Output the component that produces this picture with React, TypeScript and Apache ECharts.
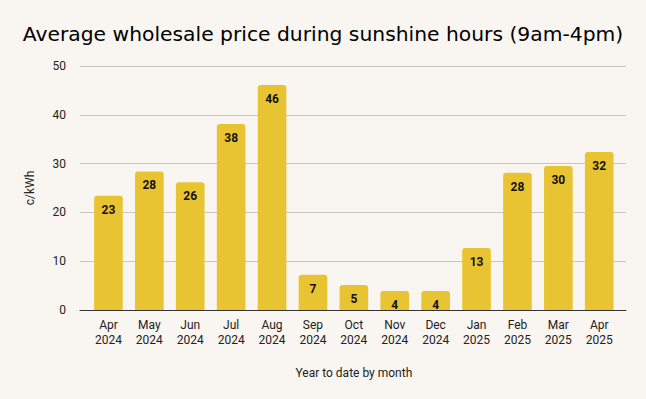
import React, { useEffect, useRef } from "react";
import * as echarts from "echarts";

const categories = [
  "Apr\n2024", "May\n2024", "Jun\n2024", "Jul\n2024", "Aug\n2024", "Sep\n2024", "Oct\n2024",
  "Nov\n2024", "Dec\n2024", "Jan\n2025", "Feb\n2025", "Mar\n2025", "Apr\n2025",
];
const prices = [23.4, 28.4, 26.2, 38.1, 46.1, 7.2, 5.1, 3.9, 3.9, 12.7, 28.1, 29.5, 32.4];
const yTicks = { min: 0, max: 50, interval: 10 };

export default function App() {
  const ref = useRef<HTMLDivElement>(null);
  useEffect(() => {
    document.body.style.margin = "0";
    const chart = echarts.init(ref.current!, null, { renderer: "svg" });
    const font = { fontFamily: "Roboto", fontSize: 12, color: "#222" };
    chart.setOption({
      animation: false,
      backgroundColor: "#f9f5f0",
      title: {
        text: "Average wholesale price during sunshine hours (9am-4pm)",
        left: "center",
        top: 19,
        textStyle: { fontFamily: "DejaVu Sans", fontSize: 20.3, fontWeight: "normal", color: "#000" },
      },
      grid: [
        { left: 80, right: 20, top: 66, bottom: 89, containLabel: false },
        { left: 88, right: 26.3, top: 66, bottom: 89, containLabel: false },
      ],
      xAxis: [
        {
          type: "category",
          gridIndex: 0,
          data: categories,
          axisTick: { show: false },
          axisLabel: { show: false },
          axisLine: { lineStyle: { color: "#333", width: 1 } },
          z: 5,
        },
        {
          type: "category",
          gridIndex: 1,
          data: categories,
          name: "Year to date by month",
          nameLocation: "middle",
          nameGap: 57,
          nameTextStyle: font,
          axisTick: { show: false },
          axisLine: { show: false },
          axisLabel: { ...font, lineHeight: 15, margin: 7, interval: 0 },
        },
      ],
      yAxis: [
        {
          type: "value",
          gridIndex: 0,
          ...yTicks,
          name: "c/kWh",
          nameLocation: "middle",
          nameGap: 44,
          nameTextStyle: font,
          axisLabel: { ...font, margin: 14 },
          splitLine: { lineStyle: { color: "#c8c4c0", width: 1 } },
        },
        {
          type: "value",
          gridIndex: 1,
          ...yTicks,
          axisLabel: { show: false },
          splitLine: { show: false },
          axisLine: { show: false },
          axisTick: { show: false },
        },
      ],
      series: [
        {
          type: "bar",
          xAxisIndex: 1,
          yAxisIndex: 1,
          data: prices,
          barWidth: "70%",
          itemStyle: { color: "#e9c432", borderRadius: [3, 3, 0, 0] },
          label: {
            show: true,
            position: "insideTop",
            distance: 8,
            fontFamily: "Roboto",
            fontWeight: "bold",
            fontSize: 12,
            color: "#111",
            formatter: (p: any) => String(Math.round(p.value)),
          },
        },
      ],
    });
    return () => chart.dispose();
  }, []);
  return <div ref={ref} style={{ width: 646, height: 399 }} />;
}
